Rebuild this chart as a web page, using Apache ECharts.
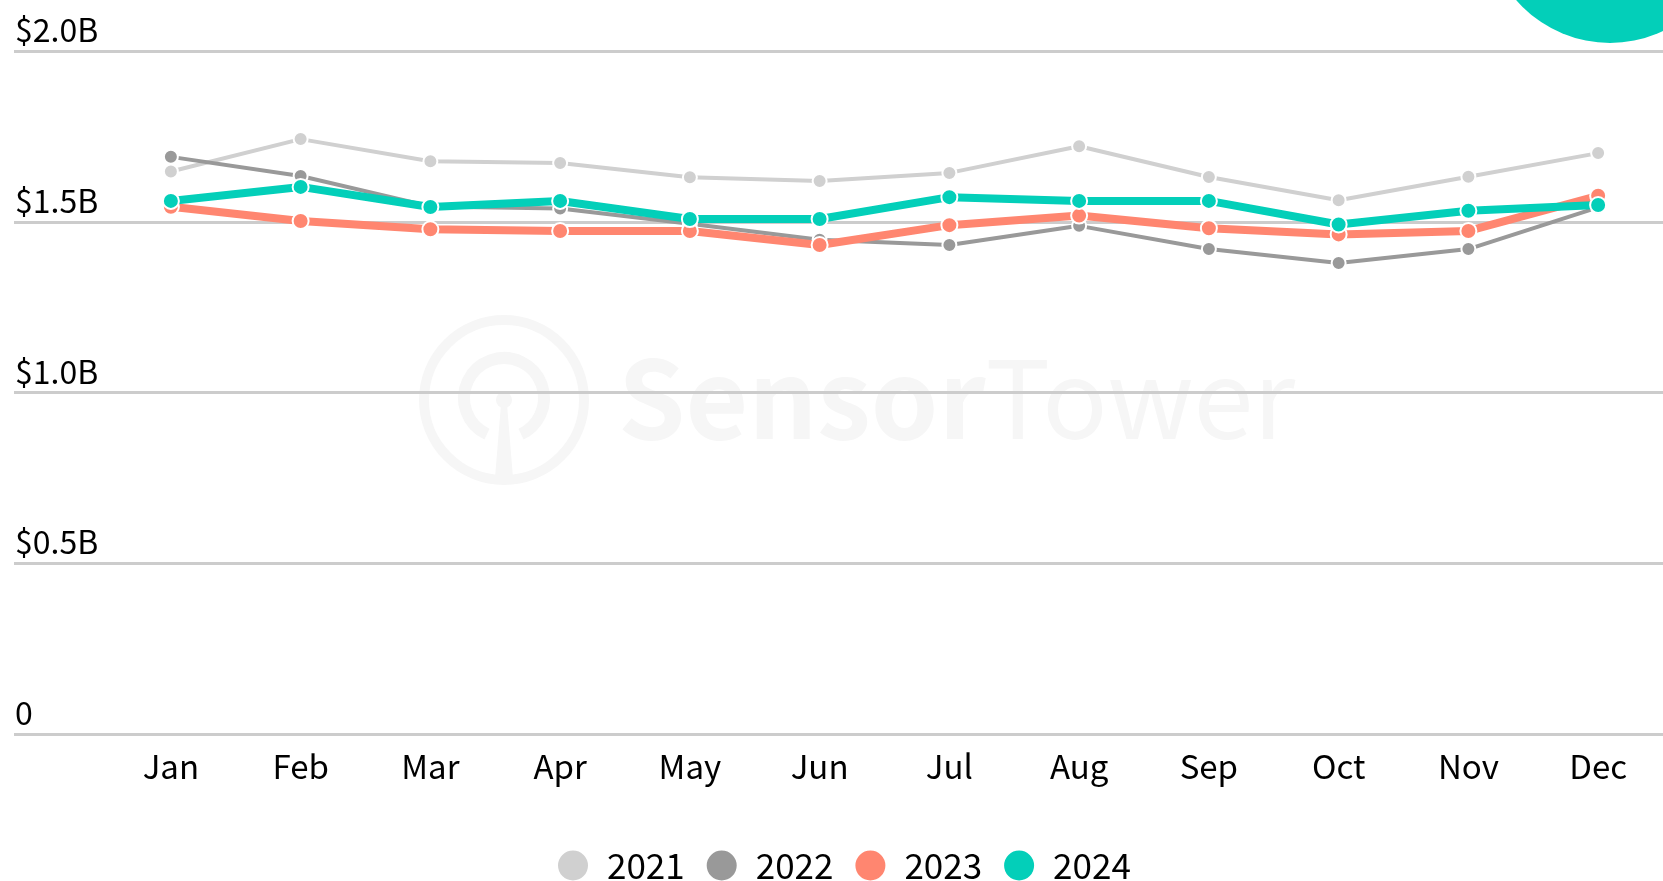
<!DOCTYPE html>
<html>
<head>
<meta charset="utf-8">
<script src="https://cdn.jsdelivr.net/npm/echarts@6/dist/echarts.min.js"></script>
<style>
  html, body { margin: 0; padding: 0; background: #fff; }
  #chart { width: 1663px; height: 881px; }
</style>
</head>
<body>
<div id="chart"></div>
<script>
// 月份与刻度
const months = ['Jan', 'Feb', 'Mar', 'Apr', 'May', 'Jun', 'Jul', 'Aug', 'Sep', 'Oct', 'Nov', 'Dec']
const yTickLabels = { 0: '0', 0.5: '$0.5B', 1: '$1.0B', 1.5: '$1.5B', 2: '$2.0B' }

// 每年月度数值（十亿美元）
const years = ['2021', '2022', '2023', '2024']
const data2021 = [1.647, 1.742, 1.677, 1.672, 1.630, 1.619, 1.643, 1.721, 1.631, 1.563, 1.632, 1.701]
const data2022 = [1.690, 1.634, 1.545, 1.539, 1.494, 1.447, 1.432, 1.488, 1.420, 1.379, 1.420, 1.542]
const data2023 = [1.544, 1.502, 1.478, 1.473, 1.473, 1.432, 1.490, 1.518, 1.481, 1.463, 1.473, 1.576]
const data2024 = [1.561, 1.602, 1.543, 1.561, 1.508, 1.508, 1.572, 1.561, 1.561, 1.492, 1.532, 1.549]

const colors = ['#d0d0d0', '#999999', '#ff8670', '#03cfb9']
const FONT = '"Noto Sans CJK SC", "Source Sans Pro", sans-serif'
const WM = '#f6f6f6'

const chart = echarts.init(document.getElementById('chart'))

const makeSeries = (name, values, idx, thick) => ({
  name: name,
  type: 'line',
  xAxisIndex: 1,
  yAxisIndex: 1,
  data: values,
  symbol: 'circle',
  symbolSize: thick ? 16 : 14,
  lineStyle: { width: thick ? 8 : 4, color: colors[idx] },
  itemStyle: { color: colors[idx], borderColor: '#fff', borderWidth: 2 },
  emphasis: { disabled: true },
  z: 3 + idx
})

const option = {
  backgroundColor: '#ffffff',
  animation: false,
  color: colors,
  grid: [
    { left: 14, right: 0, top: 51, bottom: 147 },
    { left: 106, right: 0, top: 51, bottom: 147 }
  ],
  xAxis: [
    { gridIndex: 0, type: 'category', data: months, show: false },
    {
      gridIndex: 1,
      type: 'category',
      data: months,
      boundaryGap: true,
      axisLine: { show: false },
      axisTick: { show: false },
      axisLabel: { color: '#000', fontFamily: FONT, fontSize: 33, margin: 16 }
    }
  ],
  yAxis: [
    {
      gridIndex: 0,
      type: 'value',
      min: 0,
      max: 2,
      interval: 0.5,
      axisLine: { show: false },
      axisTick: { show: false },
      splitLine: { lineStyle: { color: '#cccccc', width: 3 } },
      axisLabel: {
        inside: true,
        margin: 1,
        verticalAlign: 'bottom',
        padding: [0, 0, 5, 0],
        color: '#000',
        fontFamily: FONT,
        fontSize: 32,
        formatter: v => yTickLabels[v]
      }
    },
    { gridIndex: 1, type: 'value', min: 0, max: 2, interval: 0.5, show: false, splitLine: { show: false } }
  ],
  legend: {
    data: years,
    top: 843,
    left: 551,
    icon: 'circle',
    itemWidth: 32,
    itemHeight: 32,
    itemGap: 20,
    textStyle: { color: '#000', fontFamily: FONT, fontSize: 35, padding: [0, 0, 0, 13] },
    selectedMode: false
  },
  graphic: [
    // 水印
    {
      type: 'group', z: 0, silent: true,
      children: [
        { type: 'circle', shape: { cx: 504, cy: 400, r: 80 }, style: { fill: 'none', stroke: WM, lineWidth: 10 } },
        { type: 'arc', shape: { cx: 504, cy: 398, r: 40, startAngle: Math.PI * 0.64, endAngle: Math.PI * 2.36 }, style: { fill: 'none', stroke: WM, lineWidth: 12 } },
        { type: 'circle', shape: { cx: 504, cy: 400, r: 8 }, style: { fill: WM } },
        { type: 'polygon', shape: { points: [[501, 404], [507, 404], [513, 478], [495, 478]] }, style: { fill: WM } },
        {
          type: 'text', left: 618, top: 344,
          style: {
            text: '{b|Sensor}{r|Tower}',
            rich: {
              b: { fontFamily: FONT, fontWeight: 'bold', fontSize: 108, fill: WM },
              r: { fontFamily: FONT, fontSize: 108, fill: WM }
            }
          }
        }
      ]
    },
    // 右上角装饰圆
    { type: 'circle', z: 10, silent: true, shape: { cx: 1610, cy: -81, r: 124 }, style: { fill: '#03cfb9' } }
  ],
  series: [
    makeSeries('2021', data2021, 0, false),
    makeSeries('2022', data2022, 1, false),
    makeSeries('2023', data2023, 2, true),
    makeSeries('2024', data2024, 3, true)
  ]
}

chart.setOption(option)
</script>
</body>
</html>
